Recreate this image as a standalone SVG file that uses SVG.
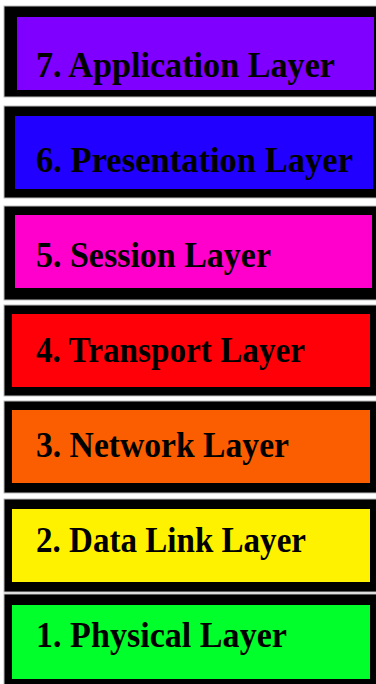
<svg xmlns="http://www.w3.org/2000/svg" width="376" height="684" viewBox="0 0 376 684">
<style>
.outer{fill:#000;stroke:#bbb;stroke-width:1}
.t{font-family:"Liberation Serif","Times New Roman",serif;font-weight:bold;font-size:36px;fill:#000}
</style>
<rect width="376" height="684" fill="#fff"/>
<g id="layer7">
<rect class="outer" x="4" y="6" width="380" height="91"/>
<rect x="17" y="17" width="357" height="73" fill="#7f00ff"/>
<text class="t" x="36" y="77" textLength="299" lengthAdjust="spacingAndGlyphs">7. Application Layer</text>
</g>
<g id="layer6">
<rect class="outer" x="4" y="106" width="380" height="92"/>
<rect x="15" y="116" width="358" height="73" fill="#2200ff"/>
<text class="t" x="36" y="172" textLength="317" lengthAdjust="spacingAndGlyphs">6. Presentation Layer</text>
</g>
<g id="layer5">
<rect class="outer" x="4" y="206" width="380" height="94"/>
<rect x="15" y="215" width="357" height="73" fill="#ff00cc"/>
<text class="t" x="36" y="267" textLength="235" lengthAdjust="spacingAndGlyphs">5. Session Layer</text>
</g>
<g id="layer4">
<rect class="outer" x="4" y="305" width="380" height="91"/>
<rect x="12" y="314" width="358" height="73" fill="#ff0008"/>
<text class="t" x="36" y="362" textLength="269" lengthAdjust="spacingAndGlyphs">4. Transport Layer</text>
</g>
<g id="layer3">
<rect class="outer" x="4" y="401" width="380" height="92"/>
<rect x="12" y="410" width="358" height="73" fill="#fb5e00"/>
<text class="t" x="36" y="457" textLength="253" lengthAdjust="spacingAndGlyphs">3. Network Layer</text>
</g>
<g id="layer2">
<rect class="outer" x="4" y="499" width="380" height="93"/>
<rect x="12" y="509" width="358" height="73" fill="#fff200"/>
<text class="t" x="36" y="552" textLength="270" lengthAdjust="spacingAndGlyphs">2. Data Link Layer</text>
</g>
<g id="layer1">
<rect class="outer" x="4" y="594" width="380" height="95"/>
<rect x="12" y="605" width="358" height="74" fill="#00ff2b"/>
<text class="t" x="36" y="647" textLength="251" lengthAdjust="spacingAndGlyphs">1. Physical Layer</text>
</g>
<g id="connectors"/>
</svg>
